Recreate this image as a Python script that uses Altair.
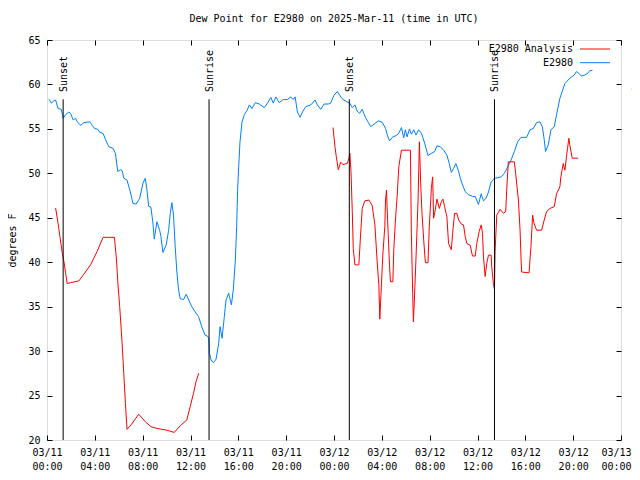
import altair as alt
import pandas as pd

# ---- data (hours since 2025-03-11 00:00 UTC, dew point in F) ----
blue_hours = [0.17, 0.36, 0.53, 0.72, 0.92, 1.19, 1.36, 1.56, 1.83, 1.97, 2.19, 2.39, 2.53, 2.81, 3.08,
              3.58, 3.78, 3.97, 4.25, 4.42, 4.69, 4.89, 5.17, 5.53, 5.72, 5.92, 6.14, 6.28, 6.42, 6.69,
              6.97, 7.19, 7.47, 7.75, 8.03, 8.22, 8.36, 8.5, 8.69, 8.86, 8.97, 9.19, 9.42, 9.53, 9.69,
              9.97, 10.17, 10.31, 10.44, 10.58, 10.72, 10.86, 11.0, 11.14, 11.42, 11.64, 11.86, 11.97,
              12.11, 12.39, 12.67, 12.94, 13.22, 13.42, 13.53, 13.58, 13.72, 13.92, 14.14, 14.36, 14.47,
              14.64, 14.83, 14.97, 15.19, 15.42, 15.58, 15.75, 15.86, 15.94, 16.03, 16.14, 16.31, 16.5,
              16.72, 16.92, 17.14, 17.42, 17.75, 18.17, 18.44, 18.72, 18.92, 19.14, 19.42, 19.75, 20.11,
              20.39, 20.58, 20.75, 20.94, 21.17, 21.36, 21.64, 22.06, 22.42, 22.61, 22.89, 23.17, 23.53,
              23.72, 24.0, 24.28, 24.47, 24.64, 24.83, 25.03, 25.31, 25.53, 25.75, 25.94, 26.14, 26.36,
              26.64, 26.86, 27.06, 27.33, 27.69, 28.03, 28.31, 28.44, 28.64, 28.92, 29.19, 29.42, 29.64,
              29.83, 29.97, 30.11, 30.31, 30.47, 30.67, 30.86, 31.08, 31.31, 31.58, 31.86, 32.14, 32.42,
              32.61, 32.89, 33.17, 33.44, 33.64, 33.81, 34.0, 34.19, 34.42, 34.56, 34.75, 34.97, 35.25,
              35.58, 35.81, 36.08, 36.31, 36.5, 36.69, 36.92, 37.14, 37.33, 37.42, 37.69, 37.97, 38.25,
              38.53, 38.81, 39.08, 39.36, 39.64, 40.11, 40.39, 40.67, 40.94, 41.22, 41.42, 41.58, 41.69,
              41.92, 42.14, 42.42, 42.61, 42.89, 43.31, 43.72, 44.08, 44.28, 44.47, 44.69, 44.97, 45.25,
              45.39, 45.61]
blue_dew = [58.33, 57.9, 58.1, 58.25, 57.3, 57.2, 56.2, 56.6, 56.9, 56.75, 56.0, 56.2, 55.8, 55.4, 55.7,
            55.8, 55.4, 55.05, 54.95, 54.6, 54.5, 53.8, 53.0, 52.8, 52.25, 50.2, 50.4, 50.3, 49.45, 49.25,
            47.9, 46.6, 46.55, 47.2, 48.9, 49.45, 48.1, 46.3, 46.2, 44.4, 42.6, 44.55, 43.6, 42.9, 41.1,
            41.95, 43.6, 45.5, 46.7, 45.3, 41.75, 38.9, 36.9, 35.9, 35.8, 36.4, 35.75, 35.4,
            35.0, 34.4, 33.9, 32.75, 31.8, 31.7, 31.45, 29.75, 29.0, 28.7, 29.1, 30.9, 32.75,
            31.45, 33.9, 35.75, 36.5, 35.2, 36.9, 40.25, 44.0, 48.1, 50.75, 53.55, 55.8, 56.6,
            57.05, 57.7, 57.3, 57.95, 57.8, 57.4, 57.9, 58.55, 57.9, 58.6, 57.95, 58.3, 58.3,
            58.6, 58.3, 58.6, 56.9, 56.3, 56.9, 57.5, 57.7, 58.25, 57.7, 57.2, 57.8, 57.8,
            57.9, 58.8, 59.2, 58.8, 58.45, 58.25, 58.1, 57.9, 57.4, 57.7, 57.0, 56.75, 57.2,
            56.25, 55.75, 55.25, 55.5, 55.9, 55.75, 55.05, 54.4, 53.65, 54.1, 54.25, 54.5, 55.15,
            54.0, 54.9, 54.1, 55.0, 54.4, 54.9, 54.3, 54.9, 54.5, 53.4, 52.0, 52.25, 52.45,
            53.1, 53.0, 52.6, 52.05, 51.1, 50.1, 50.55, 51.1, 50.25, 49.45, 48.7, 47.95, 47.6,
            47.4, 47.4, 46.5, 47.7, 46.9, 47.15, 47.9, 49.05, 49.25, 49.45, 49.5, 49.6, 50.0,
            50.75, 51.5, 52.45, 53.55, 54.05, 54.05, 54.9, 55.05, 55.7, 55.8, 55.25, 53.8, 52.45,
            53.2, 54.9, 55.25, 56.6, 58.45, 60.1, 60.7, 61.05, 61.45, 61.25, 60.95, 61.05, 61.3,
            61.55, 61.6]

red1_hours = [0.72, 0.92, 1.08, 1.28, 1.42, 1.56, 1.69, 1.97, 2.67, 3.08, 3.64, 4.19, 4.69, 5.64, 5.81,
              5.92, 6.08, 6.28, 6.42, 6.56, 6.69, 7.03, 7.67, 8.22, 8.69, 9.19, 10.03, 10.64, 11.14,
              11.69, 11.97, 12.25, 12.47, 12.69]
red1_dew = [46.1, 44.4, 42.9, 41.0, 40.05, 38.75, 37.6, 37.7, 37.9, 38.65, 39.7, 41.2, 42.8, 42.8, 40.25,
            37.8, 35.0, 30.9, 27.5, 24.1, 21.2, 21.7, 22.9, 22.05, 21.5, 21.3, 21.1, 20.85, 21.6,
            22.25, 23.75, 25.25, 26.6, 27.5]

red2_hours = [23.92, 24.08, 24.19, 24.36, 24.56, 24.75, 25.11, 25.25, 25.33, 25.42, 25.53, 25.61, 25.75,
              26.08, 26.22, 26.36, 26.58, 26.92, 27.19, 27.42, 27.61, 27.75, 27.83, 27.97, 28.08, 28.25,
              28.31, 28.39, 28.44, 28.53, 28.64, 28.72, 28.92, 29.0, 29.14, 29.28, 29.42, 29.64, 30.39,
              30.47, 30.58, 30.64, 30.72, 30.86, 31.03, 31.14, 31.25, 31.36, 31.5, 31.64, 31.86, 31.97,
              32.14, 32.25, 32.33, 32.47, 32.61, 32.81, 32.97, 33.11, 33.25, 33.44, 33.58, 33.81, 33.92,
              34.08, 34.28, 34.42, 34.64, 34.83, 34.97, 35.11, 35.39, 35.58, 35.81, 35.94, 36.14, 36.31,
              36.42, 36.5, 36.64, 36.78, 36.92, 37.14, 37.19, 37.33, 37.42, 37.47, 37.61, 37.89, 38.17,
              38.36, 38.44, 38.58, 39.08, 39.19, 39.42, 39.56, 39.64, 39.69, 40.31, 40.47, 40.61, 40.72,
              40.94, 41.36, 41.58, 41.78, 42.06, 42.42, 42.61, 42.89, 42.97, 43.17, 43.31, 43.44, 43.53,
              43.64, 43.72, 43.92, 44.42]
red2_dew = [55.15, 53.0, 51.9, 50.4, 51.25, 51.0, 51.1, 51.7, 52.25, 50.2, 45.7, 41.55, 39.7,
            39.7, 43.05, 46.05, 46.9, 47.0, 46.4, 44.2, 40.05, 37.45, 33.6, 37.6, 40.8, 44.0,
            47.0, 48.1, 46.25, 43.25, 39.7, 37.8, 37.8, 41.4, 44.75, 47.4, 50.75, 52.6, 52.6,
            43.25, 36.5, 33.3, 35.75, 40.6, 47.0, 53.55, 48.9, 45.5, 42.5, 39.95, 39.95, 44.0,
            48.3, 49.6, 44.95, 45.9, 47.1, 46.05, 46.8, 47.1, 46.25, 45.1, 42.1, 41.4, 43.25,
            45.5, 45.5, 44.75, 44.3, 44.2, 42.9, 42.1, 41.9, 40.7, 40.7, 42.1, 43.45, 44.2,
            43.25, 40.6, 38.4, 39.9, 40.8, 40.8, 39.5, 37.6, 36.95, 41.2, 45.3, 45.95, 45.5,
            45.7, 48.1, 51.3, 51.3, 50.0, 47.0, 43.6, 40.45, 38.9, 38.8, 41.75, 45.3, 44.4,
            43.6, 43.6, 44.75, 45.7, 46.05, 46.25, 47.7, 48.5, 49.6, 51.1, 50.35, 51.85, 52.8,
            53.95, 53.2, 51.7, 51.7]

sun_hours = [1.35, 13.55, 25.28, 37.42, 49.25]
sun_labels = ["Sunset", "Sunrise", "Sunset", "Sunrise", "Sunset"]

x_ticks = list(range(0, 49, 4))
y_ticks = list(range(20, 66, 5))
legend_labels = ["E2980 Analysis", "E2980"]

FONT = "DejaVu Sans Mono"
BLUE = "#0080ff"
RED = "#ff0000"

blue_df = pd.DataFrame({"hour": blue_hours, "dew": blue_dew})
red_df = pd.concat([
    pd.DataFrame({"hour": red1_hours, "dew": red1_dew, "seg": 1}),
    pd.DataFrame({"hour": red2_hours, "dew": red2_dew, "seg": 2}),
])
sun_df = pd.DataFrame({"hour": sun_hours, "label": sun_labels})
one_row = pd.DataFrame({"k": [0]})

xscale = alt.Scale(domain=[0, 48], nice=False, zero=False)
yscale = alt.Scale(domain=[20, 65], nice=False, zero=False)

label_expr = ("['03/' + toString(11 + floor(datum.value / 24)), "
              "(datum.value % 24 < 10 ? '0' : '') + toString(datum.value % 24) + ':00']")

x_main_axis = alt.Axis(values=x_ticks, labelExpr=label_expr, orient="bottom", offset=-5,
                       tickSize=5, tickColor="black", domain=False, grid=False,
                       labelFont=FONT, labelFontSize=10, labelColor="black",
                       labelPadding=7, labelLineHeight=14, labelFlush=False,
                       labelOverlap=False, labelBaseline="top", title=None,
                       labelOffset={"condition": {"test": "datum.value == 48", "value": -5},
                                    "value": 0})
y_main_axis = alt.Axis(values=y_ticks, orient="left", offset=-5, tickSize=5, tickColor="black",
                       domain=False, grid=False, labelFont=FONT, labelFontSize=10,
                       labelColor="black", labelPadding=7, labelFlush=False, labelOverlap=False,
                       title="degrees F", titleFont=FONT, titleFontSize=10,
                       titleFontWeight="normal", titleColor="black", titleX=-40, titleY=200,
                       titleAngle=270, titleAlign="center", titleBaseline="middle")
x_top_axis = alt.Axis(values=x_ticks, orient="top", offset=-5, tickSize=5, tickColor="black",
                      domain=False, grid=False, labels=False, title=None)
y_right_axis = alt.Axis(values=y_ticks, orient="right", offset=-5, tickSize=5, tickColor="black",
                        domain=False, grid=False, labels=False, title=None)

blue_line = alt.Chart(blue_df).mark_line(color=BLUE, strokeWidth=1).encode(
    x=alt.X("hour:Q", scale=xscale, axis=x_main_axis),
    y=alt.Y("dew:Q", scale=yscale, axis=y_main_axis),
)

red_line = alt.Chart(red_df).mark_line(color=RED, strokeWidth=1).encode(
    x=alt.X("hour:Q", scale=xscale, axis=None),
    y=alt.Y("dew:Q", scale=yscale, axis=None),
    detail="seg:N",
)

mirror = alt.Chart(blue_df).mark_point(opacity=0).encode(
    x=alt.X("hour:Q", scale=xscale, axis=x_top_axis),
    y=alt.Y("dew:Q", scale=yscale, axis=y_right_axis),
)

sun_rules = alt.Chart(sun_df).mark_rule(color="black", strokeWidth=1, clip=False).encode(
    x=alt.X("hour:Q", scale=xscale, axis=None),
    y=alt.YDatum(58.33, scale=yscale, axis=None),
    y2=alt.Y2Datum(20),
)

sun_text = alt.Chart(sun_df).mark_text(
    font=FONT, fontSize=10, color="black", angle=270, align="left", baseline="middle", dy=1
).encode(
    x=alt.X("hour:Q", scale=xscale, axis=None),
    y=alt.YDatum(59.15, scale=yscale, axis=None),
    text="label:N",
)

leg_text1 = alt.Chart(one_row).mark_text(
    font=FONT, fontSize=10, color="black", align="right", baseline="middle", text=legend_labels[0]
).encode(x=alt.value(526), y=alt.value(9))
leg_text2 = alt.Chart(one_row).mark_text(
    font=FONT, fontSize=10, color="black", align="right", baseline="middle", text=legend_labels[1]
).encode(x=alt.value(526), y=alt.value(22.7))
leg_line1 = alt.Chart(one_row).mark_rule(color=RED, strokeWidth=1).encode(
    x=alt.value(533), x2=alt.value(563), y=alt.value(9))
leg_line2 = alt.Chart(one_row).mark_rule(color=BLUE, strokeWidth=1).encode(
    x=alt.value(533), x2=alt.value(563), y=alt.value(22.7))

chart = alt.layer(
    blue_line, red_line, mirror, sun_rules, sun_text,
    leg_text1, leg_text2, leg_line1, leg_line2,
).resolve_axis(x="independent", y="independent").properties(
    width=574, height=400,
    autosize=alt.AutoSizeParams(type="none"),
    padding={"left": 39, "top": 32, "right": 11, "bottom": 32},
    title=alt.TitleParams(
        "Dew Point for E2980 on 2025-Mar-11 (time in UTC)",
        font=FONT, fontSize=10, fontWeight="normal", color="black",
        anchor="middle", frame="group", offset=11,
    ),
).configure_view(stroke="black", strokeWidth=1).configure(background="white")

chart.save("out.html", embed_options={"renderer": "svg", "actions": False})
